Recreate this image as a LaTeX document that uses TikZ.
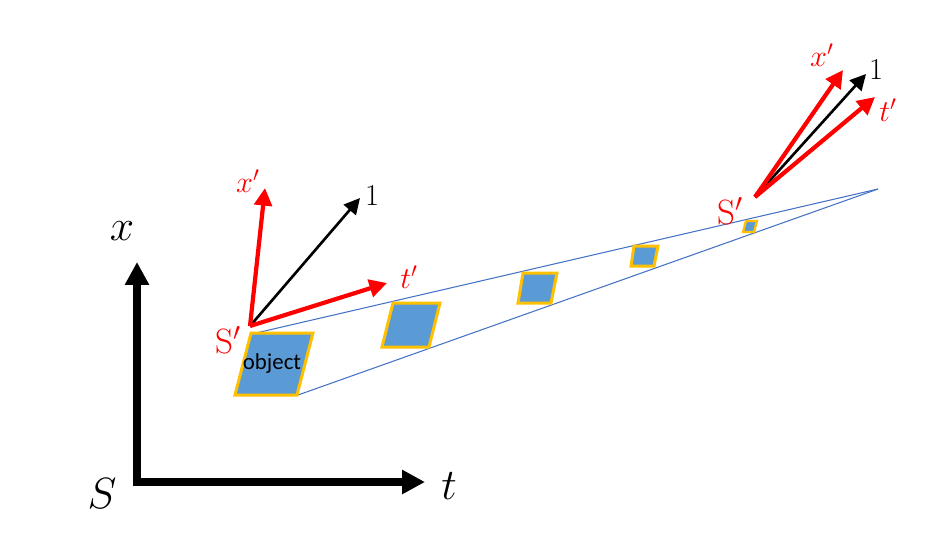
\documentclass[tikz,border=0pt]{standalone}
\usepackage{fontspec}
\newfontfamily\calibri{Carlito}
\usetikzlibrary{arrows.meta}
\definecolor{pred}{RGB}{255,0,0}
\definecolor{lblue}{RGB}{68,114,196}
\definecolor{fblue}{RGB}{91,155,213}
\definecolor{gold}{RGB}{255,192,0}
\tikzset{
  mainax/.style={line width=4pt,-{Triangle[length=13pt,width=13pt]}},
  redax/.style={pred,line width=2.4pt,-{Triangle[length=10pt,width=10pt]}},
  oneax/.style={black,line width=1.5pt,-{Triangle[length=9pt,width=9pt]}},
  obj/.style={fill=fblue,draw=gold,line width=1.7pt,line join=miter},
  ray/.style={lblue,line width=0.6pt},
  biglbl/.style={font=\fontsize{29}{33}\selectfont},
  redlbl/.style={text=pred,font=\fontsize{17}{20}\selectfont},
  slbl/.style={text=pred,font=\fontsize{20}{24}\selectfont},
  onelbl/.style={font=\fontsize{16}{19}\selectfont}
}
\begin{document}
\begin{tikzpicture}[x=0.02cm,y=-0.02cm]
\useasboundingbox (0,0) rectangle (925,545);
% main frame S
\coordinate (O) at (137,482);
\coordinate (Xtip) at (137,262);
\coordinate (Ttip) at (425,482);
\draw[mainax] ([yshift=-2pt]O) -- (Xtip);
\draw[mainax] ([xshift=-2pt]O) -- (Ttip);
\node[biglbl] (lx) at (122,231) {$x$};
\node[biglbl] (lS) at (102,494) {$S$};
\node[biglbl] (lt) at (449,486) {$t$};
% rays
\coordinate (apex) at (878,189);
\coordinate (objTL) at (256,333);
\coordinate (objBR) at (298,395);
\draw[ray] (objTL) -- (apex);
\draw[ray] (objBR) -- (apex);
% objects
\draw[obj] (251,333) -- (313,333) -- (297,395) -- (235,395) -- cycle;
\node[font=\calibri\fontsize{13}{15}\selectfont] (objtext) at (272,364) {object};
\draw[obj] (393,303) -- (440,303) -- (429,347) -- (382,347) -- cycle;
\draw[obj] (523,273) -- (557,273) -- (551,303) -- (518,303) -- cycle;
\draw[obj] (634,246) -- (658,246) -- (654,266) -- (631,266) -- cycle;
\draw[obj,line width=1.3pt] (746,221) -- (757,221) -- (754,232) -- (743,232) -- cycle;
% left S'
\coordinate (S1) at (250,326);
\coordinate (S1x) at (265,188);
\coordinate (S1one) at (360,198);
\coordinate (S1t) at (387,283);
\draw[oneax] (S1) -- (S1one);
\draw[redax] (S1) -- (S1x);
\draw[redax] (S1) -- (S1t);
\node[redlbl] (l1x) at (248,181) {$x'$};
\node[onelbl] (l1one) at (372,196) {$1$};
\node[redlbl] (l1t) at (409,277) {$t'$};
\node[slbl] (l1S) at (228,340) {$\mathrm{S}'$};
% right S'
\coordinate (S2) at (755,197);
\coordinate (S2x) at (843,70);
\coordinate (S2one) at (866,74);
\coordinate (S2t) at (875,97);
\draw[oneax] (S2) -- (S2one);
\draw[redax] (S2) -- (S2x);
\draw[redax] (S2) -- (S2t);
\node[redlbl] (l2x) at (822,55) {$x'$};
\node[onelbl] (l2one) at (876,70) {$1$};
\node[redlbl] (l2t) at (888,110) {$t'$};
\node[slbl] (l2S) at (730,211) {$\mathrm{S}'$};
\end{tikzpicture}
\end{document}
